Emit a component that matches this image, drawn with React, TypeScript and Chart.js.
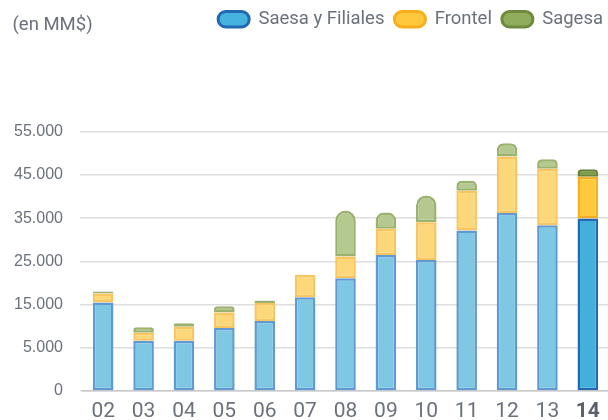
import { useEffect, useRef } from 'react';
import { Chart, registerables } from 'chart.js';

Chart.register(...registerables);

// ---- data (MM$) ----
const years = ['02', '03', '04', '05', '06', '07', '08', '09', '10', '11', '12', '13', '14'];
const saesa = [15500, 6650, 6650, 9550, 11200, 16700, 21100, 26450, 25300, 32150, 36200, 33350, 34900];
const frontel = [2050, 1800, 3200, 3600, 4150, 5150, 5050, 6100, 8750, 9200, 13050, 13050, 9650];
const sagesa = [450, 1300, 800, 1450, 600, null, 10600, 3750, 6200, 2300, 3100, 2250, 1750];
const seriesNames = ['Saesa y Filiales', 'Frontel', 'Sagesa'];
const yTickLabels = ['0', '5.000', '15.000', '25.000', '35.000', '45.000', '55.000'];
const unitLabel = '(en MM$)';

// The reference axis is evenly spaced 0, 5.000, 15.000 ... so values above 5.000 sit one half-step higher.
const AXIS_SHIFT = 5000;

const TEXT = '#6b717b';
const SANS = 'Roboto, "Liberation Sans", sans-serif';
const REG = '"Liberation Sans", Arial, sans-serif';

const normal = {
  blue: { fill: '#7fc8e4', border: '#6199d3' },
  yellow: { fill: '#fdd87b', border: '#f9c55c' },
  green: { fill: '#b4c890', border: '#9bb26f' },
};
const highlight = {
  blue: { fill: '#43b0dc', border: '#2468b2' },
  yellow: { fill: '#ffc93c', border: '#f6ae22' },
  green: { fill: '#7f9c4a', border: '#67853a' },
};
const legendColors = [
  { fill: '#45b3dd', border: '#2368b2' },
  { fill: '#ffc83d', border: '#f8ad1d' },
  { fill: '#8fad5c', border: '#6e8b3c' },
];

const last = years.length - 1;
const colorsFor = (key: 'blue' | 'yellow' | 'green', part: 'fill' | 'border') =>
  years.map((_, i) => (i === last ? highlight[key][part] : normal[key][part]));

const unitPlugin = {
  id: 'unitLabel',
  afterDraw(chart: any) {
    const ctx = chart.ctx;
    ctx.save();
    ctx.font = `18.5px ${SANS}`;
    ctx.fillStyle = TEXT;
    ctx.textBaseline = 'alphabetic';
    ctx.textAlign = 'left';
    ctx.fillText(unitLabel, 12.5, 29.5);
    ctx.restore();
  },
};

const legendShift = {
  id: 'legendShift',
  afterLayout(chart: any) {
    if (chart.legend) {
      chart.legend.left += 5;
      chart.legend.right += 5;
    }
  },
};

export default function App() {
  const ref = useRef<HTMLCanvasElement | null>(null);

  useEffect(() => {
    document.body.style.margin = '0';
    const canvas = ref.current;
    if (!canvas) return;
    const common = { xAxisID: 'x', yAxisID: 'y', borderWidth: 2.5, borderSkipped: false };
    const chart = new Chart(canvas, {
      type: 'bar',
      data: {
        labels: years,
        datasets: [
          {
            ...common,
            label: seriesNames[0],
            data: saesa.map((v) => v + AXIS_SHIFT),
            backgroundColor: colorsFor('blue', 'fill'),
            borderColor: colorsFor('blue', 'border'),
          },
          {
            ...common,
            label: seriesNames[1],
            data: frontel,
            backgroundColor: colorsFor('yellow', 'fill'),
            borderColor: colorsFor('yellow', 'border'),
          },
          {
            ...common,
            label: seriesNames[2],
            data: sagesa,
            backgroundColor: colorsFor('green', 'fill'),
            borderColor: colorsFor('green', 'border'),
            borderRadius: { topLeft: 10, topRight: 10, bottomLeft: 0, bottomRight: 0 },
          },
        ],
      },
      options: {
        animation: false,
        responsive: false,
        devicePixelRatio: 1,
        layout: { padding: { top: 0, left: 0, right: 0, bottom: 0 } },
        datasets: { bar: { categoryPercentage: 1, barPercentage: 0.51 } },
        plugins: {
          tooltip: { enabled: false },
          title: { display: false },
          legend: {
            display: true,
            position: 'top',
            align: 'end',
            labels: {
              boxWidth: 31,
              boxHeight: 15.5,
              padding: 10,
              color: TEXT,
              font: { family: SANS, size: 18.5 },
              generateLabels: () =>
                seriesNames.map((name, i) => ({
                  text: name,
                  fillStyle: legendColors[i].fill,
                  strokeStyle: legendColors[i].border,
                  lineWidth: 3,
                  borderRadius: 7.5,
                  hidden: false,
                  datasetIndex: i,
                  fontColor: TEXT,
                })),
            },
          },
        },
        scales: {
          x: {
            stacked: true,
            grid: { display: false },
            border: { display: true, color: '#c9c9c9', width: 1.5 },
            ticks: {
              padding: 0,
              color: (c: any) => (c.index === last ? '#5a6069' : TEXT),
              font: (c: any) => ({
                family: SANS,
                size: 21,
                weight: c.index === last ? 'bold' : 'normal',
              }),
              maxRotation: 0,
              autoSkip: false,
            },
            afterFit: (s: any) => {
              s.height = 29;
            },
          },
          y: {
            stacked: true,
            min: 0,
            max: 60000,
            border: { display: false },
            grid: { color: '#dedede', lineWidth: 1.5, drawTicks: true, tickLength: 3 },
            ticks: {
              stepSize: 10000,
              padding: 17,
              color: TEXT,
              font: { family: REG, size: 16 },
              callback: (_v: any, i: number) => yTickLabels[i],
            },
            afterFit: (s: any) => {
              s.width = 83;
            },
          },
          gap: {
            type: 'linear',
            position: 'top',
            display: true,
            grid: { display: false },
            border: { display: false },
            ticks: { display: false },
            afterFit: (s: any) => {
              const lh = s.chart.legend ? s.chart.legend.height : 0;
              s.height = Math.max(0, 131.7 - lh);
            },
          },
        },
      } as any,
      plugins: [unitPlugin, legendShift],
    });
    return () => chart.destroy();
  }, []);

  return (
    <div style={{ width: 608, height: 420 }}>
      <canvas ref={ref} width={608} height={420} style={{ display: 'block', width: 608, height: 420 }} />
    </div>
  );
}
